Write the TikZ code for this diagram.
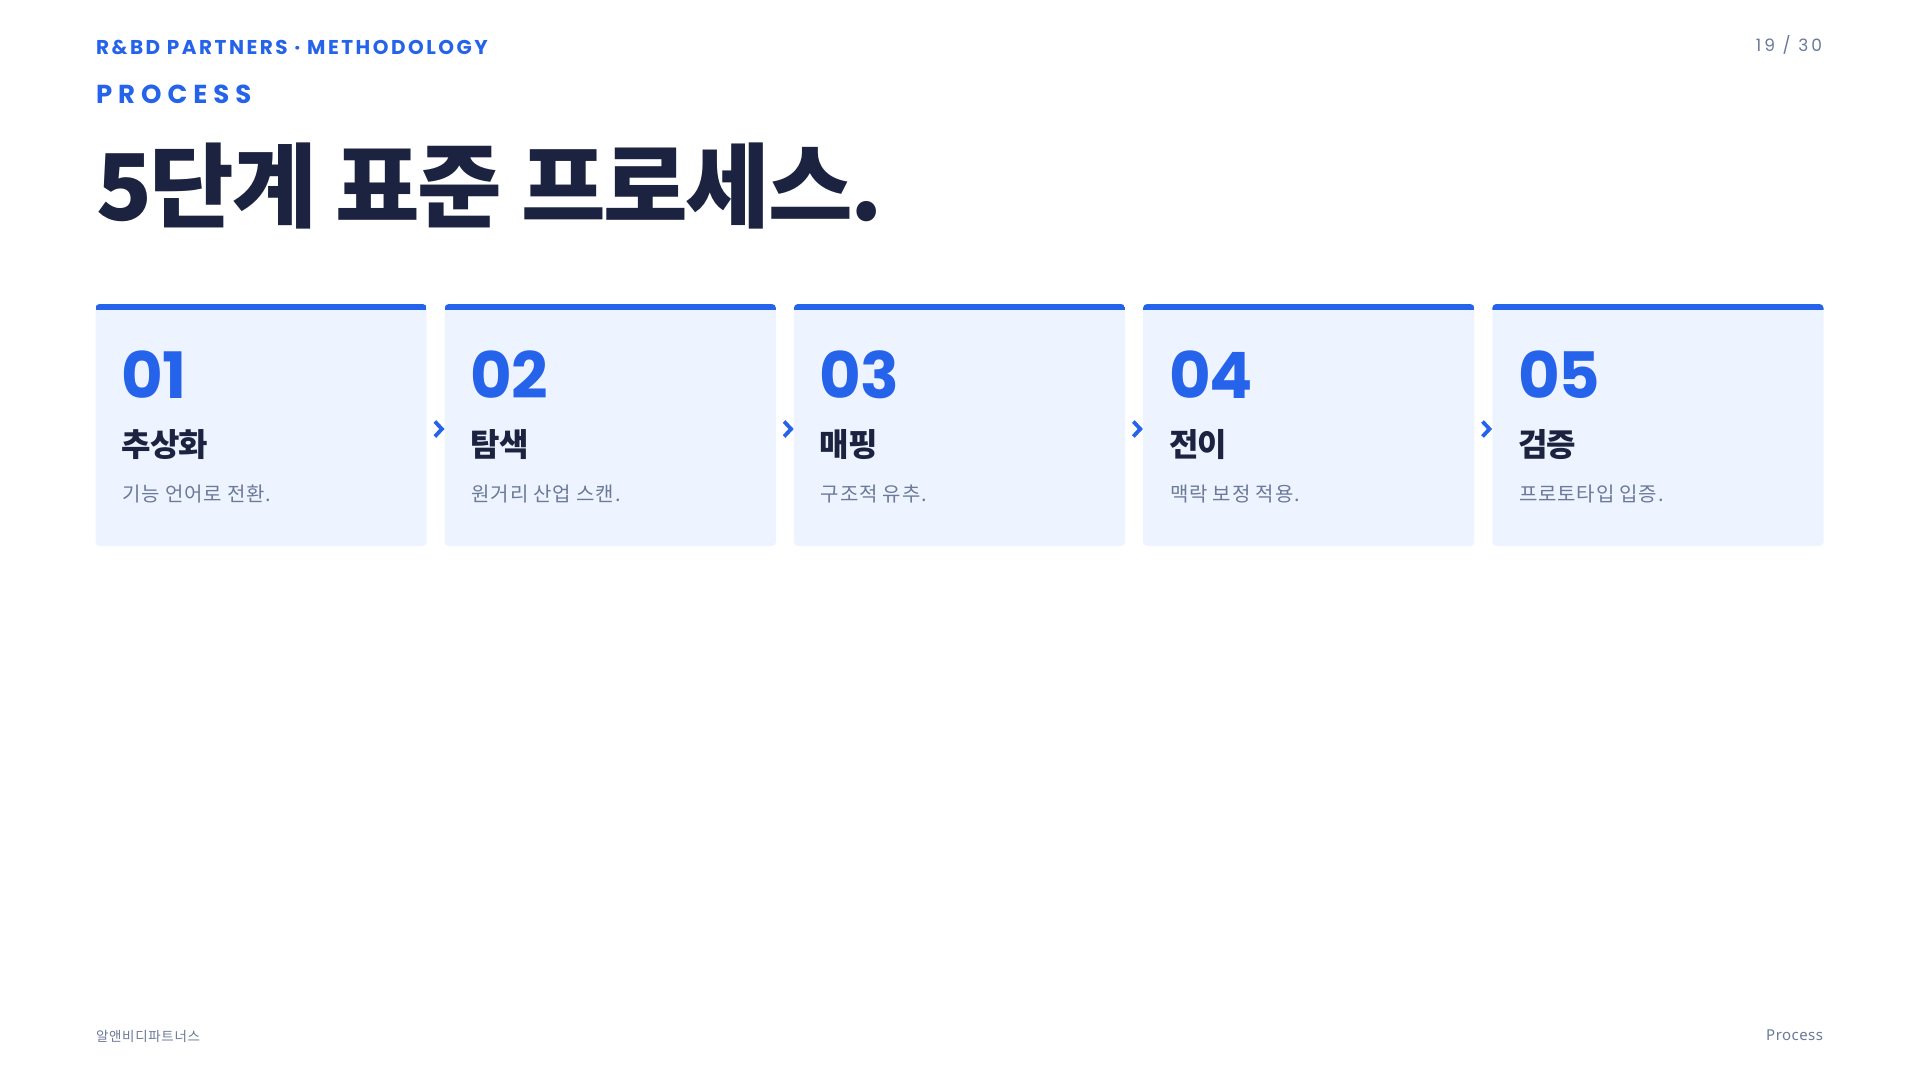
\documentclass[tikz,border=0pt]{standalone}
\usepackage{fontspec}
\usepackage{graphicx}
\usetikzlibrary{calc}
\setmainfont{Poppins}
\newfontfamily\pop{Poppins}
\newfontfamily\kr{Noto Sans CJK KR}
\newfontfamily\krblack{Noto Sans CJK KR Black}
\newfontfamily\nsans{Noto Sans}
\definecolor{brand}{HTML}{2563EB}
\definecolor{navy}{HTML}{1B2340}
\definecolor{muted}{HTML}{6B7A99}
\definecolor{cardbg}{HTML}{EEF4FF}
\tikzset{
  txt/.style={anchor=base west, inner sep=0pt, outer sep=0pt},
  txtr/.style={anchor=base east, inner sep=0pt, outer sep=0pt},
  card/.style={fill=cardbg, rounded corners=4pt, minimum width=331.2pt, minimum height=242pt, inner sep=0pt, outer sep=0pt},
  chev/.style={draw=brand, line width=3.8pt, line cap=butt, miter limit=10},
}
\begin{document}
\begin{tikzpicture}[x=1pt, y=-1pt]
\useasboundingbox[fill=white] (0,0) rectangle (1920,1080);
% header
\node[txt, text=brand] (kicker) at (96,54) {\pop\bfseries\fontsize{20}{20}\selectfont\addfontfeatures{LetterSpace=12.5}R\&BD PARTNERS · METHODOLOGY};
\node[txt, text=brand] (sect) at (96,103.3) {\pop\bfseries\fontsize{26}{26}\selectfont\addfontfeatures{LetterSpace=23}PROCESS};
\node[txtr, text=muted] (page) at (1822,51) {\pop\fontsize{17}{17}\selectfont\addfontfeatures{LetterSpace=18}19 / 30};
\node[txt, text=navy] (title) at (96,220.5) {\krblack\fontsize{92}{92}\selectfont\addfontfeatures{LetterSpace=-2.5}5단계 표준 프로세스.};
% cards
\foreach \i/\num/\head/\desc in {1/01/추상화/기능 언어로 전환.,2/02/탐색/원거리 산업 스캔.,3/03/매핑/구조적 유추.,4/04/전이/맥락 보정 적용.,5/05/검증/프로토타입 입증.}{
  \pgfmathsetmacro{\xl}{95.5+349.2*(\i-1)}
  \node[card] (c\i) at (\xl+165.6,425) {};
  \begin{scope}
    \clip[rounded corners=4pt] (c\i.south west) rectangle (c\i.north east);
    \fill[brand] (c\i.north west) rectangle ($(c\i.north east)+(0,6)$);
  \end{scope}
  \node[txt, text=brand] (n\i) at (\xl+26,398) {\pop\bfseries\fontsize{64}{64}\selectfont\addfontfeatures{LetterSpace=-2}\num};
  \node[txt, text=navy] (h\i) at (\xl+26,456) {\kr\bfseries\fontsize{32}{32}\selectfont\addfontfeatures{LetterSpace=-3}\head};
  \node[txt, text=muted] (d\i) at (\xl+27,501.5) {\kr\fontsize{20}{20}\selectfont\addfontfeatures{LetterSpace=4}\desc};
}
% chevrons between cards
\foreach \a/\b in {1/2,2/3,3/4,4/5}{
  \coordinate (m\a) at ($($(c\a.east)!0.5!(c\b.west)$)+(3,4)$);
  \draw[chev] ($(m\a)+(-3.8,-7.5)$) -- ($(m\a)+(3.2,0)$) -- ($(m\a)+(-3.8,7.5)$);
}
% footer
\node[txt, text=muted] (brandko) at (96,1041) {\kr\fontsize{13.5}{14}\selectfont\addfontfeatures{LetterSpace=5}알앤비디파트너스};
\node[txtr, text=muted] (foot) at (1823,1040.7) {\nsans\fontsize{15}{15}\selectfont\addfontfeatures{LetterSpace=3}Process};
\end{tikzpicture}
\end{document}
